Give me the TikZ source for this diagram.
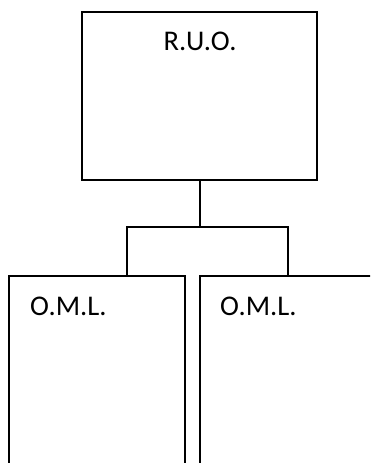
\documentclass[tikz,border=0pt]{standalone}
\usepackage{fontspec}
\setmainfont{Carlito}
\begin{document}
\begin{tikzpicture}[x=1pt,y=-1pt,
  box/.style={draw=black,line width=1.6pt,rectangle,inner sep=0pt,outer sep=0pt},
  lbl/.style={inner sep=0pt,font=\fontsize{28.5}{32}\selectfont},
  conn/.style={draw=black,line width=1.6pt,line join=miter}]
\useasboundingbox (0,0) rectangle (370,463);
\clip (0,0) rectangle (370,463);
\node[box,minimum width=235pt,minimum height=168pt] (ruo) at (199.5,96) {};
\node[box,minimum width=176pt,minimum height=240pt] (oml1) at (97,396) {};
\node[box,minimum width=200pt,minimum height=240pt] (oml2) at (300,396) {};
\node[lbl,anchor=base] (t0) at (200,50) {R.U.O.};
\node[lbl,anchor=base west] (t1) at (30,315) {O.M.L.};
\node[lbl,anchor=base west] (t2) at (220,315) {O.M.L.};
\coordinate (j) at (200,227);
\coordinate (jl) at (127,227);
\coordinate (jr) at (288,227);
\draw[conn] (ruo.south -| j) -- (j);
\draw[conn] (jl |- oml1.north) -- (jl) -- (jr) -- (jr |- oml2.north);
\end{tikzpicture}
\end{document}
